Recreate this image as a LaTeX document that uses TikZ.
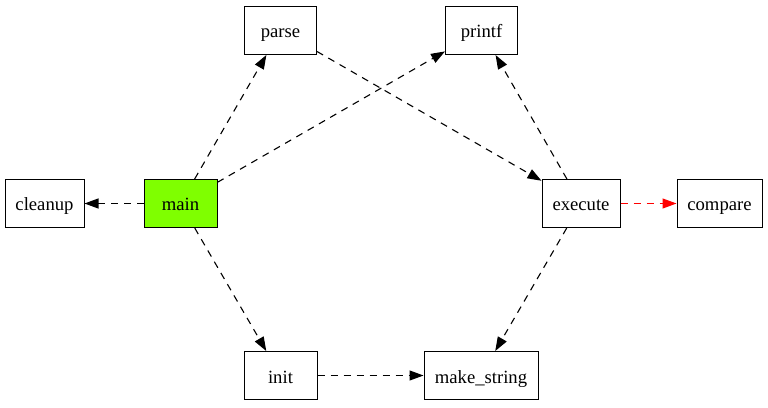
\documentclass[tikz,border=0pt]{standalone}
\usepackage{fontspec}
\setmainfont{Liberation Serif}
\usetikzlibrary{arrows.meta}
\definecolor{mainfill}{HTML}{7FFF00}
\tikzset{
  fn/.style={draw, line width=1pt, rectangle, minimum height=48pt, inner xsep=10pt, inner ysep=0pt,
    text height=17pt, text depth=2pt,
    font=\fontsize{18.67}{22}\selectfont},
  call/.style={line width=1.1pt, dash pattern=on 7pt off 6pt, -{Triangle[length=14pt,width=10pt]}},
}
\begin{document}
\begin{tikzpicture}[x=1pt,y=1pt]
\useasboundingbox (0,0) rectangle (768,407);
\node[fn, minimum width=72pt] (parse) at (280.5,376.5) {parse};
\node[fn, minimum width=72pt] (printf) at (481.5,376.5) {printf};
\node[fn, minimum width=79pt] (cleanup) at (44.5,203.5) {cleanup};
\node[fn, minimum width=73pt, fill=mainfill] (main) at (180.5,203.5) {main};
\node[fn, minimum width=78pt] (execute) at (581,203.5) {execute};
\node[fn, minimum width=85pt] (compare) at (719.5,203.5) {compare};
\node[fn, minimum width=73pt] (init) at (280.5,31.5) {init};
\node[fn, minimum width=114pt] (make) at (481,31.5) {make\_string};
\draw[call] (main) -- (parse);
\draw[call] (main) -- (printf);
\draw[call] (main) -- (cleanup);
\draw[call] (main) -- (init);
\draw[call] (parse) -- (execute);
\draw[call] (execute) -- (printf);
\draw[call, red] (execute) -- (compare);
\draw[call] (execute) -- (make);
\draw[call] (init) -- (make);
\end{tikzpicture}
\end{document}
